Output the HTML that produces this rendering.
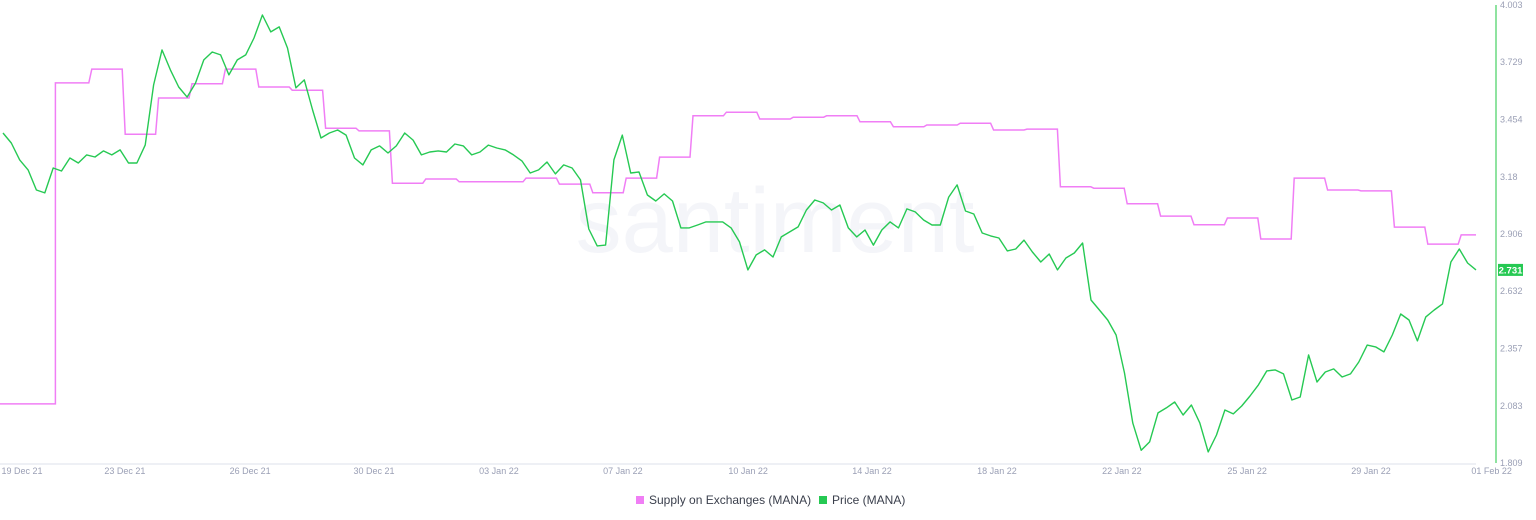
<!DOCTYPE html>
<html><head><meta charset="utf-8"><style>
body{margin:0;background:#fff;font-family:"Liberation Sans",sans-serif;}
#wrap{position:relative;width:1536px;height:520px;overflow:hidden}
.leg{position:absolute;top:493px;font-size:12px;color:#3a3f4c;display:flex;align-items:center}
.sq{width:8px;height:8px;margin-right:5px;display:inline-block}
</style></head><body>
<div id="wrap">
<svg id="chart" width="1536" height="520">
<text x="775" y="252" text-anchor="middle" font-size="92" fill="#f4f5f9" font-family="Liberation Sans, sans-serif">santiment</text>
</svg>
<div class="leg" style="left:636px"><span class="sq" style="background:#f07ef5"></span>Supply on Exchanges (MANA)</div>
<div class="leg" style="left:819px"><span class="sq" style="background:#26c953"></span>Price (MANA)</div>
</div>
<script>
const priceTicks=[4.003,3.729,3.454,3.18,2.906,2.632,2.357,2.083,1.809];
const tickLabels=["19 Dec 21","23 Dec 21","26 Dec 21","30 Dec 21","03 Jan 22","07 Jan 22","10 Jan 22","14 Jan 22","18 Jan 22","22 Jan 22","25 Jan 22","29 Jan 22","01 Feb 22"];
const tickDays=[0,3.08,6.83,10.54,14.28,17.99,21.74,25.45,29.19,32.93,36.68,40.39,44.0];
const supplyStartDay=-1;
const supplyValues=[12.9,12.9,83,86,71.8,79.7,82.8,86,82.1,81.4,73.1,72.5,61.1,62,61.4,61.4,62.2,60.9,59,62.2,66.8,75.8,76.6,75.1,75.5,75.8,74.5,73.4,73.8,74.2,72.7,72.9,60.3,60,56.6,53.9,52,53.5,48.9,62.2,59.6,59.4,51.5,47.8,49.8];
const priceStartDay=-0.57;
const priceStepDays=0.2506;
const priceValues=[3.390,3.342,3.261,3.213,3.117,3.103,3.222,3.208,3.270,3.246,3.285,3.275,3.304,3.285,3.309,3.246,3.246,3.332,3.620,3.788,3.692,3.610,3.562,3.629,3.740,3.778,3.764,3.668,3.740,3.764,3.845,3.955,3.874,3.898,3.797,3.606,3.644,3.500,3.366,3.390,3.404,3.380,3.270,3.237,3.309,3.328,3.294,3.328,3.390,3.356,3.285,3.299,3.304,3.299,3.337,3.328,3.285,3.299,3.332,3.318,3.309,3.285,3.256,3.198,3.213,3.251,3.194,3.237,3.222,3.165,2.930,2.849,2.853,3.261,3.380,3.198,3.203,3.093,3.064,3.098,3.064,2.935,2.935,2.949,2.964,2.964,2.964,2.935,2.868,2.734,2.806,2.830,2.796,2.892,2.916,2.940,3.021,3.069,3.055,3.021,3.045,2.935,2.892,2.925,2.853,2.925,2.964,2.935,3.026,3.012,2.973,2.949,2.949,3.083,3.141,3.016,3.002,2.911,2.897,2.887,2.825,2.834,2.877,2.820,2.772,2.810,2.734,2.791,2.815,2.863,2.590,2.542,2.494,2.422,2.240,2.000,1.870,1.910,2.049,2.073,2.101,2.039,2.087,2.001,1.862,1.943,2.063,2.044,2.082,2.130,2.183,2.250,2.255,2.236,2.111,2.125,2.327,2.197,2.245,2.260,2.221,2.236,2.293,2.374,2.365,2.341,2.422,2.523,2.494,2.394,2.509,2.542,2.571,2.772,2.834,2.767,2.734];
const lastPriceLabel="2.731";

const svg=document.getElementById('chart');
const NS='http://www.w3.org/2000/svg';
const X=d=>22+d*33.4;
const Yp=p=>463-(p-1.809)/(4.003-1.809)*458;
const Ys=v=>463-v/100*458;
const plotRight=1476;
function mk(tag,attrs){const e=document.createElementNS(NS,tag);for(const k in attrs)e.setAttribute(k,attrs[k]);svg.appendChild(e);return e;}

const base=mk('line',{x1:0,x2:plotRight,y1:464,y2:464,stroke:'#eef0f5','stroke-width':2});


tickLabels.forEach((l,i)=>{
  const t=mk('text',{x:X(tickDays[i]),y:474,'text-anchor':'middle','font-size':9,fill:'#9a9fb5'});
  t.textContent=l;
  
  
});
const ax=mk('line',{x1:1496,x2:1496,y1:5,y2:463,stroke:'#8fe3a0','stroke-width':2});


priceTicks.forEach(p=>{
  const t=mk('text',{x:1500,y:Yp(p)+3,'font-size':9,fill:'#9a9fb5'});
  t.textContent=String(p);
  
  
});

// supply step line
let pts=[];
supplyValues.forEach((v,i)=>{
  const d=supplyStartDay+i;
  let x0=Math.max(0,X(d)), x1=Math.min(plotRight,X(d+1));
  const y=Ys(v);
  if(i>0){ x0=Math.min(x0+ (i===2?0:3), x1); }
  pts.push([x0,y]); pts.push([x1,y]);
});
const sp=mk('polyline',{points:pts.map(p=>p[0].toFixed(1)+','+p[1].toFixed(1)).join(' '),fill:'none',stroke:'#f07ef5','stroke-width':1.5});



// price line
const step=(plotRight-X(priceStartDay))/(priceValues.length-1)/33.4;
const ppts=priceValues.map((p,i)=>X(priceStartDay+i*step).toFixed(1)+','+Yp(p).toFixed(1)).join(' ');
const pl=mk('polyline',{points:ppts,fill:'none',stroke:'#26c953','stroke-width':1.4,'stroke-linejoin':'round'});



const ly=Yp(priceValues[priceValues.length-1]);
const box=mk('rect',{x:1498,y:ly-6,width:25,height:12,fill:'#26c953'});


const bt=mk('text',{x:1510.5,y:ly+3.5,'text-anchor':'middle','font-size':9.5,fill:'#fff','font-weight':'bold'});
bt.textContent=lastPriceLabel;


</script>
</body></html>
